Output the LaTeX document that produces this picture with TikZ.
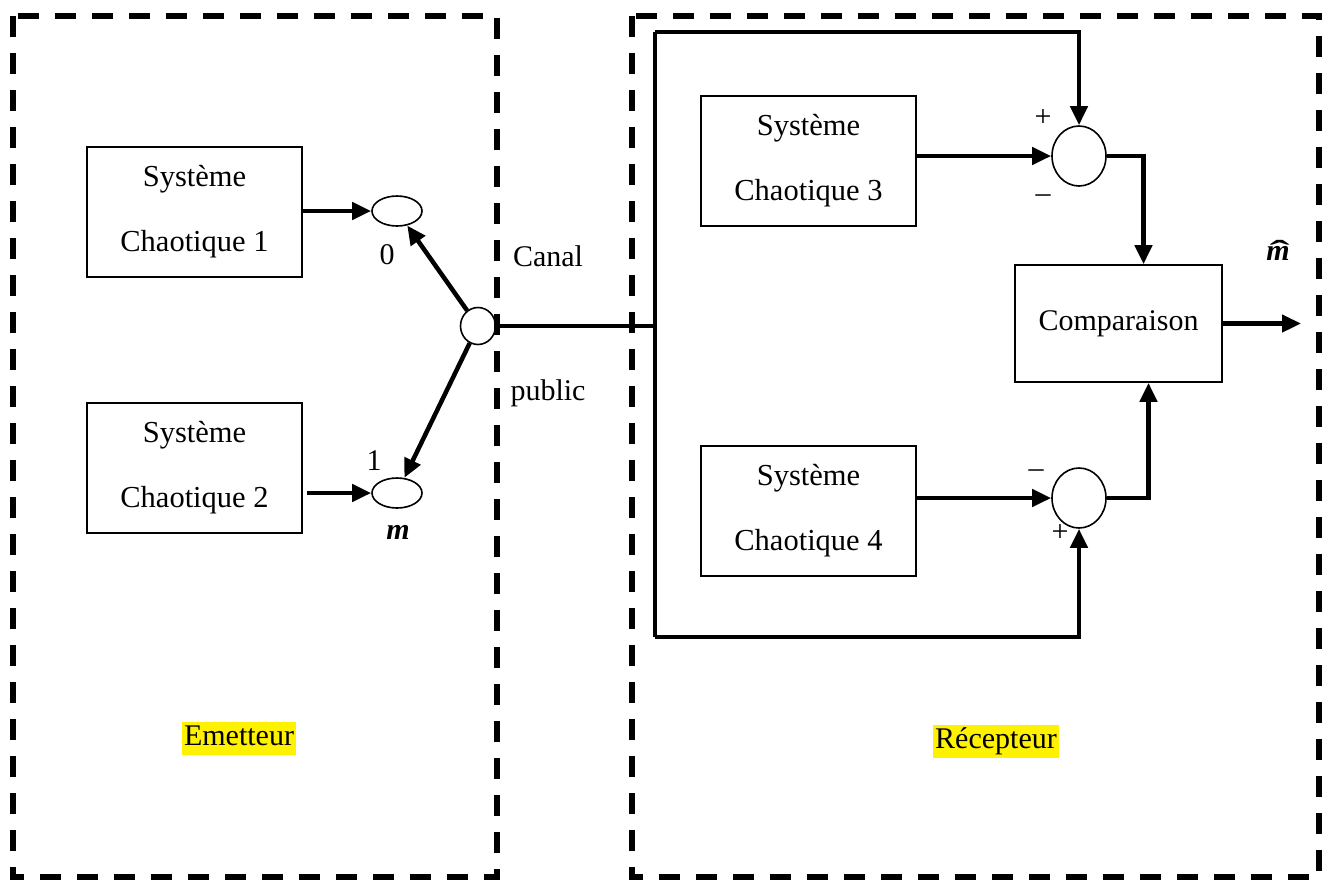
\RequirePackage{fix-cm}
\documentclass[tikz,border=0pt]{standalone}
\usepackage{fontspec}
\setmainfont{Liberation Serif}
\usetikzlibrary{arrows.meta,shapes.geometric,calc}

\tikzset{
  txt/.style={font=\fontsize{30}{36}\selectfont, inner sep=0pt},
  sysbox/.style={draw, line width=1.6pt, align=center, inner sep=0pt,
    font=\fontsize{30.5}{65}\selectfont, minimum width=215pt, minimum height=130pt},
  frame/.style={line width=5.5pt, dash pattern=on 21pt off 16pt},
  wire/.style={line width=4.5pt, line join=miter},
  flow/.style={wire, -{Triangle[length=19pt,width=17pt]}},
  oval/.style={draw, ellipse, line width=1.6pt, inner sep=0pt},
  sign/.style={font=\fontsize{30}{36}\selectfont, inner sep=0pt},
  hilite/.style={fill=yellow, inner sep=2pt, font=\fontsize{30}{36}\selectfont,
    text height=22pt, text depth=7pt}
}

% bold italic m with a wide circumflex on top
\newcommand{\mhat}{\ooalign{\textbf{\textit{m}}\cr
  \hidewidth\kern3pt\raisebox{-1pt}{\scalebox{2}[1]{\textbf{ˆ}}}\hidewidth\cr}}

\begin{document}
\begin{tikzpicture}[x=1pt, y=-1pt]
\useasboundingbox (0,0) rectangle (1330,879);

% transmitter and receiver frames
\draw[frame] (13,16) rectangle (497,877);
\draw[frame] (632,16) rectangle (1319,877);

% transmitter
\node[sysbox] (s1) at (194.5,212) {Système\\Chaotique 1};
\node[sysbox] (s2) at (194.5,468) {Système\\Chaotique 2};
\node[oval, minimum width=50pt, minimum height=30pt] (e0) at (397,211) {};
\node[oval, minimum width=50pt, minimum height=30pt] (e1) at (397,493) {};
\node[oval, minimum width=35pt, minimum height=37pt] (sw) at (478,326) {};

\draw[flow] (s1.east |- e0.west) -- (e0.west);
\draw[flow] ([xshift=4pt]s2.east |- e1.west) -- (e1.west);
\draw[flow] (sw) -- (e0);
\draw[flow] (sw) -- (e1);

\node[txt] (l0) at (387,255) {0};
\node[txt] (l1) at (374,461) {1};
\node[txt] (lm) at (398,532) {\textbf{\textit{m}}};

% public channel
\coordinate (j) at (655,326);
\coordinate (tl) at (655,32);
\coordinate (bl) at (655,637);
\draw[wire] (sw.east) -- (j);
\node[txt] (canal) at (548,256) {Canal};
\node[txt] (public) at (548,393) {public};

% receiver
\node[sysbox] (s3) at (808.5,161) {Système\\Chaotique 3};
\node[sysbox] (s4) at (808.5,511) {Système\\Chaotique 4};
\node[oval, minimum width=54pt, minimum height=60pt] (c1) at (1079,156) {};
\node[oval, minimum width=54pt, minimum height=60pt] (c2) at (1079,498) {};
\node[draw, line width=1.6pt, minimum width=207pt, minimum height=117pt,
  font=\fontsize{30}{36}\selectfont, inner sep=0pt] (cmp) at (1118.5,323.5) {Comparaison};
\coordinate (out) at (1301,323.5);

\draw[wire] (tl) -- (bl);
\draw[flow] (tl) -| (c1.north);
\draw[flow] (bl) -| (c2.south);
\draw[flow] (s3.east |- c1.west) -- (c1.west);
\draw[flow] (s4.east |- c2.west) -- (c2.west);
\draw[flow] (c1.east) -| ($(cmp.north)+(25,0)$);
\draw[flow] (c2.east) -| ($(cmp.south)+(30,0)$);
\draw[flow] (cmp.east) -- (out);

\node[sign] (p1) at (1043,118) {+};
\node[sign] (m1) at (1043,199) {–};
\node[sign] (m2) at (1036,474) {–};
\node[sign] (p2) at (1060,533) {+};
\node[txt] (mh) at (1278,254) {\mhat};

% labels
\node[hilite] (em) at (239,738) {Emetteur};
\node[hilite] (rc) at (996,741) {Récepteur};
\end{tikzpicture}
\end{document}
